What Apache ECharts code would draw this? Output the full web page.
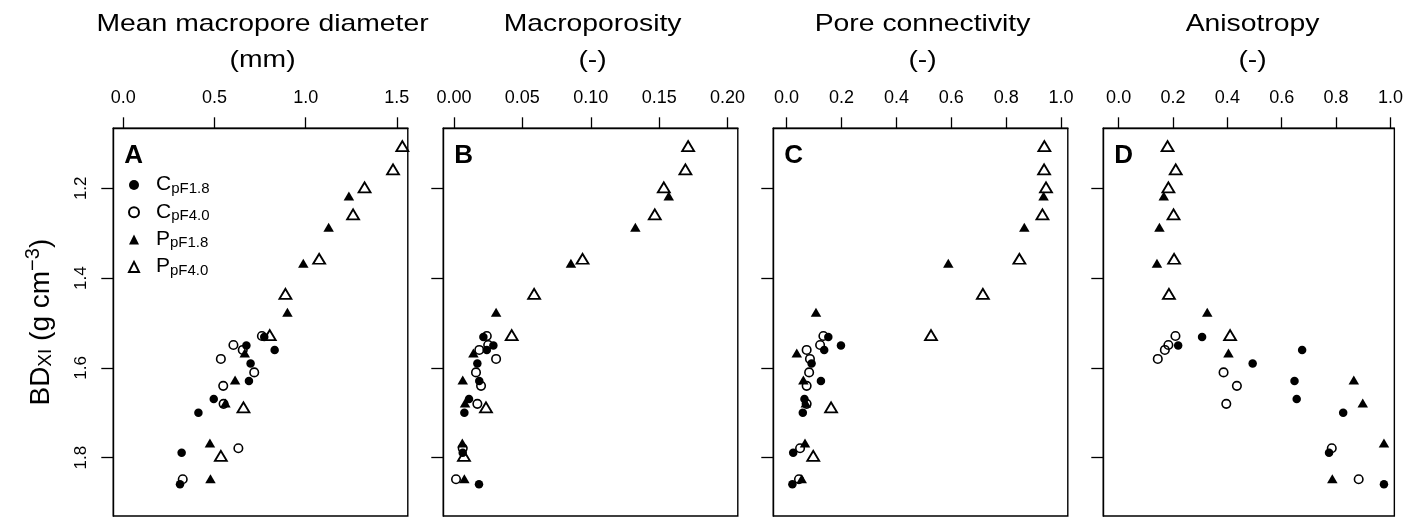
<!DOCTYPE html>
<html><head><meta charset="utf-8">
<script src="https://cdn.jsdelivr.net/npm/echarts@6/dist/echarts.min.js"></script>
<style>html,body{margin:0;padding:0;background:#fff}#c{width:1406px;height:518px}</style>
</head><body><div id="c"></div>
<script>
// ---------- DATA ----------
const seriesNames = ['CpF1.8', 'CpF4.0', 'PpF1.8', 'PpF4.0'];
const panelTitles = ['Mean macropore diameter\n(mm)', 'Macroporosity\n(-)', 'Pore connectivity\n(-)', 'Anisotropy\n(-)'];
const panelLetters = ['A', 'B', 'C', 'D'];

// BD_XI (g cm-3) of each sample, per series
const bdCpF18 = [1.531, 1.550, 1.560, 1.590, 1.629, 1.669, 1.700, 1.789, 1.859];
const bdCpF40 = [1.529, 1.549, 1.560, 1.580, 1.610, 1.640, 1.680, 1.779, 1.848];
const bdPpF18 = [1.217, 1.287, 1.367, 1.476, 1.567, 1.627, 1.678, 1.767, 1.847];
const bdPpF40 = [1.106, 1.158, 1.198, 1.258, 1.357, 1.435, 1.527, 1.688, 1.796];

// A: mean macropore diameter (mm)
const diamCpF18 = [0.773, 0.675, 0.830, 0.698, 0.689, 0.496, 0.412, 0.320, 0.311];
const diamCpF40 = [0.760, 0.604, 0.655, 0.535, 0.718, 0.548, 0.550, 0.631, 0.326];
const diamPpF18 = [1.237, 1.126, 0.987, 0.900, 0.666, 0.613, 0.560, 0.475, 0.478];
const diamPpF40 = [1.530, 1.479, 1.323, 1.260, 1.074, 0.889, 0.803, 0.659, 0.535];

// B: macroporosity (-)
const porCpF18 = [0.0215, 0.0288, 0.0240, 0.0171, 0.0185, 0.0110, 0.0076, 0.0064, 0.0183];
const porCpF40 = [0.0240, 0.0250, 0.0185, 0.0308, 0.0161, 0.0198, 0.0171, 0.0064, 0.0015];
const porPpF18 = [0.1570, 0.1326, 0.0855, 0.0308, 0.0142, 0.0064, 0.0081, 0.0061, 0.0076];
const porPpF40 = [0.1712, 0.1692, 0.1534, 0.1468, 0.0940, 0.0586, 0.0422, 0.0234, 0.0073];

// C: pore connectivity (-)
const conCpF18 = [0.152, 0.198, 0.137, 0.091, 0.125, 0.065, 0.059, 0.024, 0.021];
const conCpF40 = [0.134, 0.122, 0.073, 0.085, 0.082, 0.073, 0.073, 0.049, 0.045];
const conPpF18 = [0.936, 0.866, 0.589, 0.107, 0.037, 0.061, 0.070, 0.067, 0.055];
const conPpF40 = [0.939, 0.938, 0.945, 0.932, 0.848, 0.715, 0.526, 0.162, 0.097];

// D: anisotropy (-)
const aniCpF18 = [0.307, 0.219, 0.675, 0.493, 0.647, 0.655, 0.826, 0.774, 0.976];
const aniCpF40 = [0.209, 0.183, 0.170, 0.144, 0.386, 0.435, 0.396, 0.784, 0.883];
const aniPpF18 = [0.166, 0.150, 0.141, 0.326, 0.404, 0.865, 0.898, 0.976, 0.786];
const aniPpF40 = [0.180, 0.210, 0.183, 0.202, 0.204, 0.185, 0.410, null, null];

// tick labels
const xTicksA = [0.0, 0.5, 1.0, 1.5];
const xTicksB = [0.00, 0.05, 0.10, 0.15, 0.20];
const xTicksC = [0.0, 0.2, 0.4, 0.6, 0.8, 1.0];
const xTicksD = [0.0, 0.2, 0.4, 0.6, 0.8, 1.0];
const yTicks = [1.2, 1.4, 1.6, 1.8];

// ---------- LAYOUT / STYLE ----------
const FONT = 'Liberation Sans, Arial, sans-serif';
const bdList = [bdCpF18, bdCpF40, bdPpF18, bdPpF40];
const panelData = [
  [diamCpF18, diamCpF40, diamPpF18, diamPpF40],
  [porCpF18, porCpF40, porPpF18, porPpF40],
  [conCpF18, conCpF40, conPpF18, conPpF40],
  [aniCpF18, aniCpF40, aniPpF18, aniPpF40]
];
const panelTicks = [xTicksA, xTicksB, xTicksC, xTicksD];
const tickDigits = [1, 2, 1, 1];
const xRange = [[-0.0547, 1.560], [-0.0078, 0.2075], [-0.0485, 1.0244], [-0.0564, 1.0142]];
const yRange = [1.0664, 1.9298];
const gLeft = [113.3, 443.3, 773.3, 1103.3];
const gTop = 128.3, gW = 294.5, gH = 387.7;

const symStyles = [
  { symbol: 'circle', symbolSize: 8.5, itemStyle: { color: '#000', borderWidth: 0, opacity: 1 } },
  { symbol: 'circle', symbolSize: 8.5, itemStyle: { color: 'rgba(0,0,0,0)', borderColor: '#000', borderWidth: 1.6, opacity: 1 } },
  { symbol: 'triangle', symbolSize: [10.5, 9], itemStyle: { color: '#000', borderWidth: 0, opacity: 1 } },
  { symbol: 'triangle', symbolSize: [12, 10], itemStyle: { color: 'rgba(0,0,0,0)', borderColor: '#000', borderWidth: 1.8, opacity: 1 } }
];

const grids = [], xAxes = [], yAxes = [], series = [], titles = [], graphics = [];
for (let p = 0; p < 4; p++) {
  grids.push({ left: gLeft[p], top: gTop, width: gW, height: gH, show: true,
    borderColor: '#000', borderWidth: 1.4, backgroundColor: '#fff' });
  xAxes.push({
    gridIndex: p, type: 'value', position: 'top', min: xRange[p][0], max: xRange[p][1],
    axisLine: { show: true, onZero: false, lineStyle: { color: '#000', width: 1.4 } },
    axisTick: { show: true, length: 11, customValues: panelTicks[p], lineStyle: { color: '#000', width: 1.3 } },
    axisLabel: { customValues: panelTicks[p], formatter: v => v.toFixed(tickDigits[p]),
      margin: 21, fontSize: 18, color: '#000', fontFamily: FONT },
    splitLine: { show: false }
  });
  const y = {
    gridIndex: p, type: 'value', inverse: true, min: yRange[0], max: yRange[1],
    axisLine: { show: true, onZero: false, lineStyle: { color: '#000', width: 1.4 } },
    axisTick: { show: true, length: 12, customValues: yTicks, lineStyle: { color: '#000', width: 1.3 } },
    axisLabel: { show: p === 0, customValues: yTicks, formatter: v => v.toFixed(1), rotate: 90,
      margin: 23, fontSize: 17, color: '#000', fontFamily: FONT },
    splitLine: { show: false }
  };
  if (p === 0) {
    y.name = '{m|BD}{s|XI}{m| (g cm}{p|\u22123}{m|)}';
    y.nameLocation = 'middle';
    y.nameRotate = 90;
    y.nameGap = 58;
    y.nameTextStyle = { color: '#000', fontFamily: FONT, rich: {
      m: { fontSize: 28, lineHeight: 32, verticalAlign: 'bottom', fontFamily: FONT, color: '#000' },
      s: { fontSize: 19, lineHeight: 20, verticalAlign: 'bottom', fontFamily: FONT, color: '#000' },
      p: { fontSize: 20, lineHeight: 16, verticalAlign: 'top', fontFamily: FONT, color: '#000' }
    } };
  }
  yAxes.push(y);
  graphics.push({ type: 'text', x: gLeft[p] + gW / 2 + 2, y: 6, scaleX: 1.18, silent: true,
    style: { text: panelTitles[p], font: '24px ' + FONT, textAlign: 'center', textVerticalAlign: 'top',
      lineHeight: 36, fill: '#000' } });
  titles.push({ text: panelLetters[p], left: gLeft[p] + 11, top: 143, padding: 0,
    textStyle: { fontSize: 26, fontWeight: 'bold', color: '#000', fontFamily: FONT } });
  for (let s = 0; s < 4; s++) {
    const xs = panelData[p][s], ys = bdList[s];
    const data = [];
    xs.forEach((x, i) => { if (x !== null) data.push([x, ys[i]]); });
    series.push(Object.assign({ type: 'scatter', name: seriesNames[s], xAxisIndex: p, yAxisIndex: p,
      data: data, silent: true, z: 2 + s }, symStyles[s]));
  }
}

const chart = echarts.init(document.getElementById('c'), null, { renderer: 'canvas' });
chart.setOption({
  animation: false,
  backgroundColor: '#fff',
  title: titles,
  graphic: graphics,
  grid: grids,
  xAxis: xAxes,
  yAxis: yAxes,
  legend: {
    data: seriesNames, orient: 'vertical', left: 128, top: 174, itemWidth: 10, itemHeight: 10,
    itemGap: 5.3, selectedMode: false, padding: 0,
    formatter: n => '{m|' + n[0] + '}{s|' + n.slice(1) + '}',
    textStyle: { color: '#000', fontFamily: FONT, rich: {
      m: { fontSize: 21, lineHeight: 22, verticalAlign: 'top', padding: [0, 0, 0, 12], fontFamily: FONT, color: '#000' },
      s: { fontSize: 15, lineHeight: 9, verticalAlign: 'bottom', fontFamily: FONT, color: '#000' }
    } }
  },
  series: series
});
</script></body></html>
